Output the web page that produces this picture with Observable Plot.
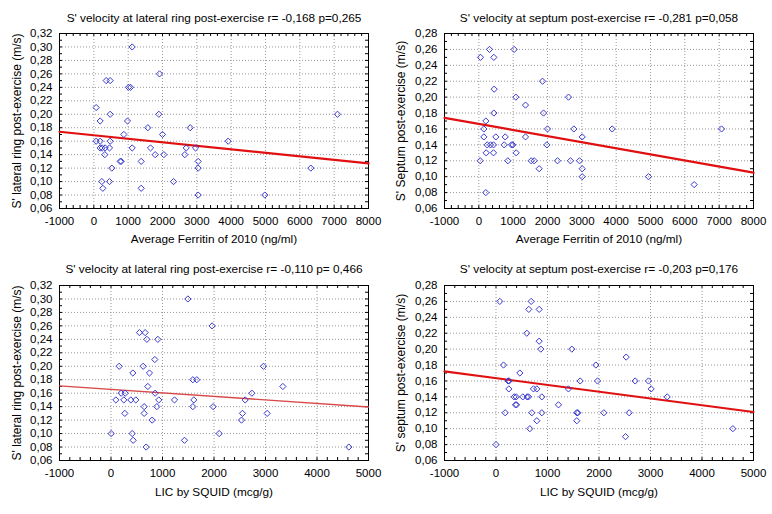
<!DOCTYPE html>
<html><head><meta charset="utf-8">
<script src="https://cdn.jsdelivr.net/npm/d3@7"></script>
<script src="https://cdn.jsdelivr.net/npm/@observablehq/plot@0.6"></script>
<style>
body{margin:0;background:#fff}
#chart{display:flex;flex-wrap:wrap;width:772px;height:514px}
#chart svg{display:block}
</style>
</head><body><div id="chart"></div>
<script>
// ---------- tick labels ----------
const ferritinTicks = [-1000, 0, 1000, 2000, 3000, 4000, 5000, 6000, 7000, 8000];
const licTicks = [-1000, 0, 1000, 2000, 3000, 4000, 5000];
const lateralTicks = [0.06, 0.08, 0.10, 0.12, 0.14, 0.16, 0.18, 0.20, 0.22, 0.24, 0.26, 0.28, 0.30, 0.32];
const septumTicks = [0.06, 0.08, 0.10, 0.12, 0.14, 0.16, 0.18, 0.20, 0.22, 0.24, 0.26, 0.28];

// ---------- panel texts ----------
const titles = [
  "S' velocity at lateral ring post-exercise r= -0,168 p=0,265",
  "S' velocity at septum post-exercise r= -0,281 p=0,058",
  "S' velocity at lateral ring post-exercise r= -0,110 p= 0,466",
  "S' velocity at septum post-exercise r= -0,203 p=0,176"
];
const xLabels = ["Average Ferritin of 2010 (ng/ml)", "Average Ferritin of 2010 (ng/ml)", "LIC by SQUID (mcg/g)", "LIC by SQUID (mcg/g)"];
const yLabels = ["S' lateral ring post-exercise (m/s)", "S' Septum post-exercise (m/s)", "S' lateral ring post-exercise (m/s)", "S' septum post-exercise (m/s)"];

// ---------- fitted regression lines (value at left / right end of x axis) ----------
const fitStartY = [0.174, 0.174, 0.171, 0.172];
const fitEndY = [0.127, 0.105, 0.1395, 0.121];

// ---------- panel 1: ferritin vs lateral ring ----------
const ferritinLateralX = [1117,1913,359,476,1010,1068,68,476,1893,7097,184,981,1573,2806,874,2000,68,184,476,3913,184,243,330,456,1117,1651,2690,2962,320,1787,2039,2651,767,796,1379,3039,524,3039,6320,233,456,2321,262,1379,3039,4980];
const ferritinLateralY = [0.30,0.26,0.25,0.25,0.24,0.24,0.21,0.20,0.20,0.20,0.19,0.19,0.18,0.18,0.17,0.17,0.16,0.16,0.16,0.16,0.15,0.15,0.15,0.15,0.15,0.15,0.15,0.15,0.14,0.14,0.14,0.14,0.13,0.13,0.13,0.13,0.12,0.12,0.12,0.10,0.10,0.10,0.09,0.09,0.08,0.08];

// ---------- panel 2: ferritin vs septum ----------
const ferritinSeptumX = [311,1029,49,437,1855,447,1078,2612,1359,437,1884,204,146,2000,2767,3884,7069,146,495,767,1359,3010,243,340,427,738,952,990,1981,214,427,1088,39,845,1524,1612,2292,2670,2932,1757,3010,3010,4942,6272,204];
const ferritinSeptumY = [0.26,0.26,0.25,0.25,0.22,0.21,0.20,0.20,0.19,0.18,0.18,0.17,0.16,0.16,0.16,0.16,0.16,0.15,0.15,0.15,0.15,0.15,0.14,0.14,0.14,0.14,0.14,0.14,0.14,0.13,0.13,0.13,0.12,0.12,0.12,0.12,0.12,0.12,0.12,0.11,0.11,0.10,0.10,0.09,0.08];

// ---------- panel 3: LIC vs lateral ring ----------
const licLateralX = [1492,1964,553,663,696,910,851,159,625,2961,424,747,1589,1666,715,3337,197,275,857,2735,94,249,385,482,928,1233,1608,2605,644,890,1589,1984,269,644,2553,3032,799,2534,3,411,2100,430,1427,683,4618];
const licLateralY = [0.30,0.26,0.25,0.25,0.24,0.24,0.21,0.20,0.20,0.20,0.19,0.19,0.18,0.18,0.17,0.17,0.16,0.16,0.16,0.16,0.15,0.15,0.15,0.15,0.15,0.15,0.15,0.15,0.14,0.14,0.14,0.14,0.13,0.13,0.13,0.13,0.12,0.12,0.10,0.10,0.10,0.09,0.09,0.08,0.08];

// ---------- panel 4: LIC vs septum ----------
const licSeptumX = [74,683,637,838,598,838,870,1472,2528,146,1939,463,236,256,1634,1971,2702,2961,249,728,793,1407,3013,353,392,521,605,631,890,3324,379,398,1213,178,696,890,1569,1589,2094,2586,793,1569,657,4599,2515,0];
const licSeptumY = [0.26,0.26,0.25,0.25,0.22,0.21,0.20,0.20,0.19,0.18,0.18,0.17,0.16,0.16,0.16,0.16,0.16,0.16,0.15,0.15,0.15,0.15,0.15,0.14,0.14,0.14,0.14,0.14,0.14,0.14,0.13,0.13,0.13,0.12,0.12,0.12,0.12,0.12,0.12,0.12,0.11,0.11,0.10,0.10,0.09,0.08];

const panels = [
  {xs: ferritinLateralX, ys: ferritinLateralY, xTicks: ferritinTicks, yTicks: lateralTicks, m: [33, 18, 49, 59], thin: false, ylx: -42, tdy: -20, xldy: 34},
  {xs: ferritinSeptumX, ys: ferritinSeptumY, xTicks: ferritinTicks, yTicks: septumTicks, m: [33, 19, 49, 58], thin: false, ylx: -43, tdy: -20, xldy: 34},
  {xs: licLateralX, ys: licLateralY, xTicks: licTicks, yTicks: lateralTicks, m: [28, 18, 54, 59], thin: true, ylx: -42, tdy: -21, xldy: 35},
  {xs: licSeptumX, ys: licSeptumY, xTicks: licTicks, yTicks: septumTicks, m: [28, 19, 54, 58], thin: false, ylx: -43, tdy: -21, xldy: 35}
];

const W = 386, H = 257;
const font = "'Liberation Sans', Arial, sans-serif";
const comma = d => d.toFixed(2).replace(".", ",");

panels.forEach((p, i) => {
  const [mt, mr, mb, ml] = p.m;
  const fw = W - ml - mr, fh = H - mt - mb;
  const xd = [p.xTicks[0], p.xTicks[p.xTicks.length - 1]];
  const yd = [p.yTicks[0], p.yTicks[p.yTicks.length - 1]];
  const xMinor = d3.range(xd[0], xd[1] + 1, 200);
  const yMinor = d3.range(0, Math.round((yd[1] - yd[0]) / 0.01) + 1).map(k => yd[0] + k * 0.01);
  const pts = p.xs.map((x, k) => ({x, y: p.ys[k]}));
  const fit = [{x: xd[0], y: fitStartY[i]}, {x: xd[1], y: fitEndY[i]}];
  const tick = 3;
  const svg = Plot.plot({
    width: W, height: H,
    marginTop: mt, marginRight: mr, marginBottom: mb, marginLeft: ml,
    style: {fontFamily: font, fontSize: "11px", color: "#000", background: "#fff"},
    x: {domain: xd},
    y: {domain: yd},
    marks: [
      Plot.gridX(p.xTicks, {stroke: "#999", strokeOpacity: 1, strokeDasharray: "1,2"}),
      Plot.gridY(p.yTicks, {stroke: "#999", strokeOpacity: 1, strokeDasharray: "1,2"}),
      Plot.ruleX(xMinor, {insetTop: fh - tick, stroke: "#000"}),
      Plot.ruleX(xMinor, {insetBottom: fh - tick, stroke: "#000"}),
      Plot.ruleY(yMinor, {insetRight: fw - tick, stroke: "#000"}),
      Plot.ruleY(yMinor, {insetLeft: fw - tick, stroke: "#000"}),
      Plot.axisX(p.xTicks, {tickSize: 0, tickPadding: 8, tickFormat: d => String(d), label: null, fill: "#000", fontSize: 11.5}),
      Plot.axisY(p.yTicks, {tickSize: 0, tickPadding: 7, tickFormat: comma, label: null, fill: "#000", fontSize: 11.5}),
      Plot.frame({stroke: "#000"}),
      Plot.line(fit, {x: "x", y: "y", stroke: p.thin ? "#d84848" : "#e01010", strokeWidth: p.thin ? 1.3 : 2.2}),
      Plot.dot(pts, {x: "x", y: "y", symbol: "diamond2", r: 2.8, stroke: "#3a3ad0", strokeWidth: 1}),
      Plot.text([titles[i]], {frameAnchor: "top", dy: p.tdy, fontSize: 11.8, fill: "#000"}),
      Plot.text([xLabels[i]], {frameAnchor: "bottom", dy: p.xldy, fontSize: 11.8, fill: "#000"}),
      Plot.text([yLabels[i]], {frameAnchor: "left", textAnchor: "middle", dx: p.ylx, rotate: -90, fontSize: 12, fill: "#000"})
    ]
  });
  document.getElementById("chart").appendChild(svg);
});
</script>
</body></html>
